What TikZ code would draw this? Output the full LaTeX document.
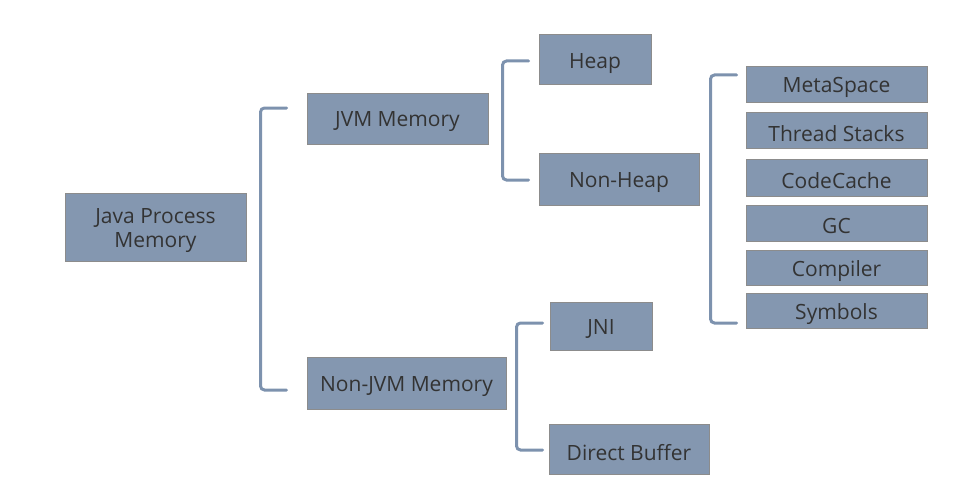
\documentclass[tikz,border=0pt]{standalone}
\usepackage{fontspec}
\setmainfont{Open Sans}
\definecolor{boxfill}{HTML}{8497B0}
\definecolor{boxline}{HTML}{8C8C8C}
\definecolor{txt}{HTML}{333333}
\definecolor{brk}{HTML}{7D92AE}
\newcommand{\lowtext}[1]{\raisebox{-3.3pt}[\height][\depth]{#1}}
\tikzset{
  box/.style={draw=boxline, line width=1pt, fill=boxfill, text=txt, inner sep=0pt,
    font=\fontsize{21}{25}\selectfont},
  br/.style={draw=brk, line width=3pt, rounded corners=4pt, line cap=round}
}
\begin{document}
\begin{tikzpicture}[x=1pt,y=-1pt]
\useasboundingbox (0,0) rectangle (964,487);
\node[box, minimum width=181, minimum height=68] (jpm) at (155.5,227)
  {\lowtext{\begin{tabular}{@{}c@{}}Java Process\\[-1pt]Memory\end{tabular}}};
\node[box, minimum width=181, minimum height=51] (jvm) at (397.5,118.5) {\lowtext{JVM Memory}};
\node[box, minimum width=199, minimum height=52] (njvm) at (406.5,383) {\lowtext{Non-JVM Memory}};
\node[box, minimum width=112, minimum height=50] (heap) at (595,60) {\lowtext{Heap}};
\node[box, minimum width=160, minimum height=52] (nheap) at (619,179) {\lowtext{Non-Heap}};
\node[box, minimum width=181, minimum height=35] (meta) at (836.5,84.5) {\lowtext{MetaSpace}};
\node[box, minimum width=181, minimum height=36] (ts) at (836.5,130) {\lowtext{Thread Stacks}};
\node[box, minimum width=181, minimum height=37] (cc) at (836.5,177.5) {\lowtext{CodeCache}};
\node[box, minimum width=181, minimum height=36] (gc) at (836.5,223) {\lowtext{GC}};
\node[box, minimum width=181, minimum height=35] (comp) at (836.5,267.5) {\lowtext{Compiler}};
\node[box, minimum width=181, minimum height=35] (sym) at (836.5,310.5) {\lowtext{Symbols}};
\node[box, minimum width=102, minimum height=48] (jni) at (601,326) {\lowtext{JNI}};
\node[box, minimum width=160, minimum height=50] (db) at (629,449) {\lowtext{Direct Buffer}};
% brackets
\draw[br] ([shift={(-20,-10.5)}]jvm.west) -- ++(-26,0) |- ([shift={(-20,7)}]njvm.west);
\draw[br] ([shift={(-10,1)}]heap.west) -- ++(-26,0) |- ([shift={(-10,1)}]nheap.west);
\draw[br] ([shift={(-9,-9.5)}]meta.west) -- ++(-26,0) |- ([shift={(-9,12.5)}]sym.west);
\draw[br] ([shift={(-7,-3)}]jni.west) -- ++(-26,0) |- ([shift={(-6,1)}]db.west);
\end{tikzpicture}
\end{document}
